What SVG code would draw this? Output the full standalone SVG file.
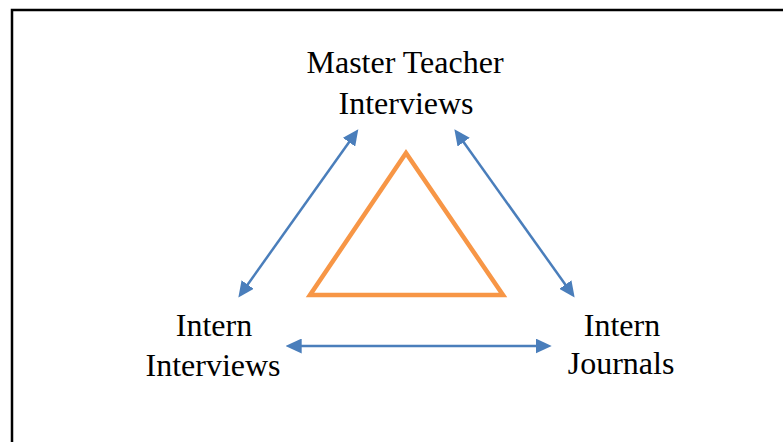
<svg xmlns="http://www.w3.org/2000/svg" width="783" height="442" viewBox="0 0 783 442">
  <style>
    .label { font-family: "Liberation Serif", "Times New Roman", serif; font-size: 32px; fill: #000; text-anchor: middle; }
    .link { stroke: #4A7EBB; stroke-width: 2.5; fill: none; marker-start: url(#head); marker-end: url(#head); }
  </style>
  <defs>
    <marker id="head" markerUnits="userSpaceOnUse" markerWidth="16" markerHeight="15" viewBox="0 0 16 15" refX="7" refY="7.5" orient="auto-start-reverse">
      <path d="M0,0 L16,7.5 L0,15 Z" fill="#4A7EBB"/>
    </marker>
  </defs>

  <!-- frame -->
  <rect x="12" y="10" width="800" height="500" fill="#fff" stroke="#000" stroke-width="2.5"/>

  <!-- central triangle -->
  <g id="center-triangle">
    <polygon points="406,153 310,295 503,295" fill="none" stroke="#F79646" stroke-width="4.5"/>
  </g>

  <g id="node-master">
    <text class="label" x="405" y="73">Master Teacher</text>
    <text class="label" x="406" y="114">Interviews</text>
  </g>

  <g id="node-intern-interviews">
    <text class="label" x="214" y="336">Intern</text>
    <text class="label" x="213" y="376">Interviews</text>
  </g>

  <g id="node-intern-journals">
    <text class="label" x="622" y="336">Intern</text>
    <text class="label" x="621" y="374">Journals</text>
  </g>

  <g id="connectors">
    <line class="link" x1="353.1" y1="136.5" x2="243.6" y2="290.2"/>
    <line class="link" x1="459.6" y1="136.5" x2="569.4" y2="290.2"/>
    <line class="link" x1="294.7" y1="346" x2="542.7" y2="346"/>
  </g>
</svg>
